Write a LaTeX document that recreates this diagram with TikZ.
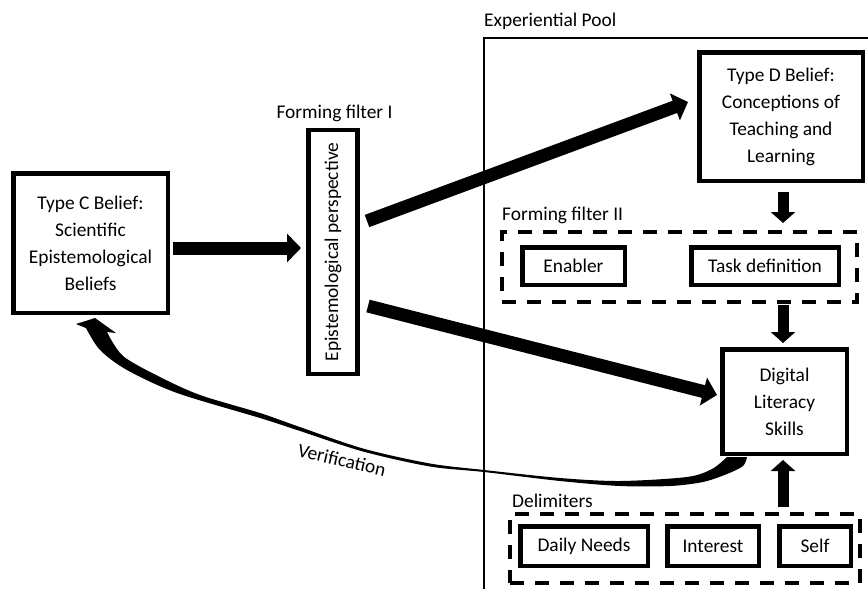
\documentclass[tikz,border=0pt]{standalone}
\usepackage{fontspec}
\setmainfont{Carlito}
\usetikzlibrary{arrows.meta}
\begin{document}
\begin{tikzpicture}[x=1pt,y=-1pt,
  box/.style={draw, line width=4.5pt, align=center, inner sep=0pt, font=\fontsize{19.4}{27}\selectfont},
  lbl/.style={font=\fontsize{19.4}{24}\selectfont, inner sep=0pt},
  dbox/.style={draw, line width=4pt, dash pattern=on 14pt off 11pt, inner sep=0pt},
  bigarrow/.style={line width=13pt, -{Triangle[length=14pt,width=28pt]}},
  vertarrow/.style={line width=11pt, -{Triangle[length=11pt,width=24pt]}},
]
\useasboundingbox (0,0) rectangle (868,589);
\clip (0,0) rectangle (868,589);
\fill[white] (0,0) rectangle (868,589);

% experiential pool frame
\coordinate (poolbl) at (484,600);
\coordinate (pooltl) at (484,38);
\coordinate (pooltr) at (880,38);
\draw[line width=1.6pt] (poolbl) -- (pooltl) -- (pooltr);
\node[lbl, anchor=base west] (eplbl) at (484,26) {Experiential Pool};

% main boxes
\node[box, minimum width=154.5pt, minimum height=139.5pt] (tc) at (90.5,243)
  {Type C Belief:\\Scientific\\Epistemological\\Beliefs};
\node[box, minimum width=49pt, minimum height=244pt] (f1) at (333,252)
  {\rotatebox{90}{Epistemological perspective}};
\node[lbl, anchor=base] (f1lbl) at (334.5,118) {Forming filter I};

\node[box, minimum width=163.5pt, minimum height=128.5pt] (td) at (781,116.5)
  {Type D Belief:\\Conceptions of\\Teaching and\\Learning};

\node[dbox, minimum width=355pt, minimum height=70pt] (ff2) at (679.5,267) {};
\node[lbl, anchor=base west] (ff2lbl) at (502,220) {Forming filter II};
\node[box, minimum width=102.5pt, minimum height=37.5pt] (en) at (573.5,266) {Enabler};
\node[box, minimum width=147.5pt, minimum height=37.5pt] (tdef) at (765,266) {Task definition};

\node[box, minimum width=124.5pt, minimum height=104.5pt] (dls) at (784.5,401.5)
  {Digital\\Literacy\\Skills};

\node[dbox, minimum width=350pt, minimum height=69pt] (delim) at (685,548.5) {};
\node[lbl, anchor=base west] (delimlbl) at (512,507) {Delimiters};
\node[box, minimum width=127.5pt, minimum height=39.5pt] (dn) at (584,546) {Daily Needs};
\node[box, minimum width=91.5pt, minimum height=39.5pt] (int) at (713,546) {Interest};
\node[box, minimum width=71.5pt, minimum height=39.5pt] (self) at (815,546) {Self};

% arrows
\coordinate (a0s) at (173,248);
\coordinate (a0e) at (301,248);
\draw[bigarrow] (a0s) -- (a0e);
\coordinate (a1s) at (367,221);
\coordinate (a1e) at (688,102);
\draw[bigarrow] (a1s) -- (a1e);
\coordinate (a2s) at (368,306);
\coordinate (a2e) at (717,395);
\draw[bigarrow] (a2s) -- (a2e);

\coordinate (v1s) at (783,192);
\coordinate (v1e) at (783,223);
\draw[vertarrow] (v1s) -- (v1e);
\coordinate (v2s) at (783,305);
\coordinate (v2e) at (783,343);
\draw[vertarrow] (v2s) -- (v2e);
\coordinate (v3s) at (783,507);
\coordinate (v3e) at (783,460);
\draw[vertarrow] (v3s) -- (v3e);

% verification curved arrow
\fill plot[smooth] coordinates {(747,457) (743,466) (727,474) (703,482) (670,486) (620,486) (560,481) (484,472) (430,466.5) (363,451.5) (297,430) (260,418) (177,393) (127,370) (100,350) (86,328)}
  -- (76,324) -- (95,318) -- (116,333)
  -- plot[smooth] coordinates {(107,332) (123,356) (160,377) (200,395) (260,413) (297,426) (363,448.5) (430,463.5) (484,470) (560,478) (620,481) (687,477) (712,469) (727,457)}
  -- cycle;
\node[lbl, rotate=-13] (ver) at (342,460) {Verification};
\end{tikzpicture}
\end{document}
